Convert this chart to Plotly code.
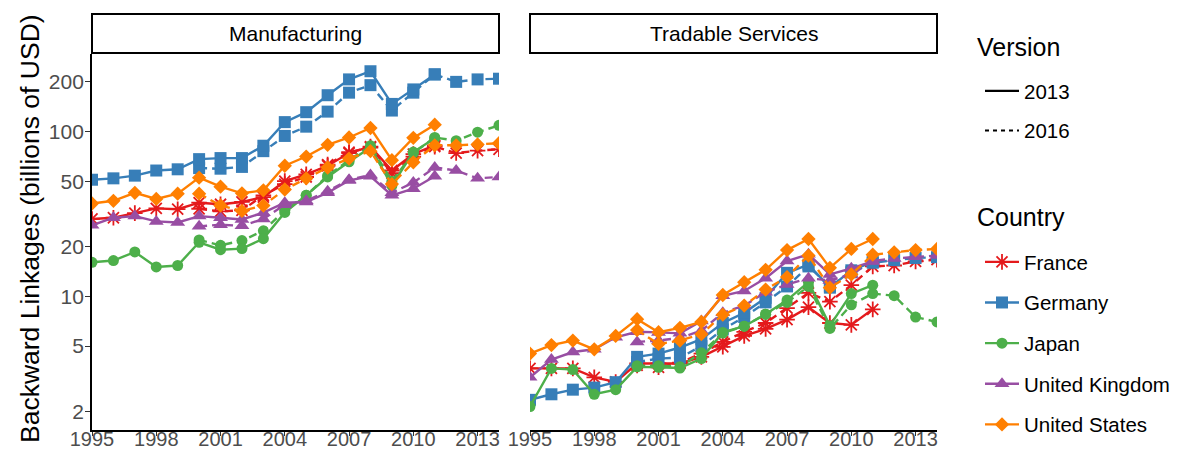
import plotly.graph_objects as go

# ---------------- data ----------------
countries = ["France", "Germany", "Japan", "United Kingdom", "United States"]
colors = ["#E41A1C", "#377EB8", "#4DAF4A", "#984EA3", "#FF7F00"]
symbols = ["asterisk-open", "square", "circle", "triangle-up", "diamond"]
msizes = [13, 12, 11, 13, 11]

years_2013 = list(range(1995, 2012))   # WIOD 2013 release
years_2016 = list(range(2000, 2015))   # WIOD 2016 release

# Manufacturing, 2013 version (1995-2011)
mfg_2013 = {
    "France":         [29.5, 30, 32, 34.2, 33.8, 37, 36.2, 37.4, 40, 50, 55, 62, 74, 81, 58, 73, 82.5],
    "Germany":        [51, 52, 54, 58, 59, 68, 69, 69, 82, 114, 131, 166, 207, 232, 147, 180, 222],
    "Japan":          [16.1, 16.5, 18.6, 15.1, 15.4, 21.3, 19.2, 19.5, 22.4, 32.3, 41, 53, 65.5, 80, 47, 75, 91],
    "United Kingdom": [27, 30, 30.7, 28.5, 28.1, 30.7, 30, 29.3, 32.2, 37, 37.4, 42.5, 50.5, 53.5, 41, 45, 53.5],
    "United States":  [36.6, 38, 42.5, 39, 42, 52.5, 46.3, 42.2, 44, 62, 70.5, 83, 92, 105, 67, 91.5, 110],
}
# Manufacturing, 2016 version (2000-2014)
mfg_2016 = {
    "France":         [34, 32.8, 33.3, 41, 48, 53, 63, 75, 80, 56, 70.5, 81, 74, 76.5, 78],
    "Germany":        [60, 59.5, 61, 76, 94, 107, 132, 172, 191, 134, 172, 222, 200, 207, 209],
    "Japan":          [22, 20.4, 21.8, 25, 33.3, 41, 54, 67, 82, 50, 74, 92, 88, 99, 109],
    "United Kingdom": [26.6, 27.2, 26.8, 29.5, 36, 38, 43.5, 51, 54.5, 42.5, 49, 60.5, 58, 52, 53],
    "United States":  [42, 35.6, 33, 35.6, 44.5, 52, 60.5, 68.5, 76, 48, 65, 82.5, 82.5, 83.5, 85],
}
# Tradable services, 2013 version (1995-2011)
srv_2013 = {
    "France":         [3.66, 3.66, 3.66, 3.23, 3.03, 3.92, 3.92, 3.92, 4.3, 4.95, 5.76, 6.35, 7.23, 8.6, 6.9, 6.72, 8.35],
    "Germany":        [2.36, 2.55, 2.72, 2.8, 3.02, 4.3, 4.5, 4.9, 5.5, 6.9, 7.95, 9.8, 13.9, 15.6, 11.3, 14.4, 16.2],
    "Japan":          [2.15, 3.66, 3.6, 2.55, 2.72, 3.74, 3.72, 3.68, 4.2, 6.05, 6.6, 7.8, 9.5, 12.2, 6.65, 10.4, 11.7],
    "United Kingdom": [3.23, 4.14, 4.6, 4.78, 5.65, 6.1, 6.05, 5.97, 7.1, 10.1, 10.8, 12.9, 16.4, 18.0, 13.6, 14.8, 16.3],
    "United States":  [4.5, 5.07, 5.4, 4.78, 5.76, 7.28, 6.07, 6.45, 7.0, 10.2, 12.2, 14.5, 19.1, 22.3, 14.9, 19.4, 22.3],
}
# Tradable services, 2016 version (2000-2014)
srv_2016 = {
    "France":         [3.82, 3.72, 3.97, 4.5, 5.3, 6.1, 6.9, 8.5, 10.5, 9.3, 11.7, 15.2, 15.4, 16.3, 16.7],
    "Germany":        [4.0, 4.2, 4.25, 5.0, 6.3, 7.5, 9.2, 11.5, 15.2, 11.5, 14.0, 16.0, 16.6, 17.1, 17.3],
    "Japan":          [3.8, 3.8, 3.75, 4.55, 6.0, 6.6, 7.8, 9.2, 11.5, 6.4, 8.9, 10.4, 10.1, 7.5, 7.0],
    "United Kingdom": [5.3, 5.4, 5.6, 6.2, 7.95, 8.8, 10.6, 11.8, 12.9, 12.5, 13.6, 16.4, 17.0, 17.4, 17.7],
    "United States":  [6.25, 5.15, 5.4, 5.9, 7.75, 8.8, 11.0, 13.1, 17.7, 11.3, 13.6, 17.9, 18.5, 19.1, 19.4],
}

panels = ["Manufacturing", "Tradable Services"]
versions = ["2013", "2016"]
y_ticks = [2, 5, 10, 20, 50, 100, 200]
x_ticks = [1995, 1998, 2001, 2004, 2007, 2010, 2013]

# ---------------- figure ----------------
FONT = "Liberation Sans, Arial, Helvetica, sans-serif"
DASH16 = "8px,5px"

# the page body has an 8px margin: figure drawn at (8, 8) in the window
OFF = 8
W, H = 1180 - OFF, 452 - OFF
L, R, T, B = 92 - OFF, 243, 54 - OFF, 22
pw = W - L - R
ph = H - T - B
panel_w = 407
gap = 31


def sx(px):  # window pixel x -> paper x
    return (px - OFF - L) / pw


def sy(py):  # window pixel y -> paper y
    return (H - B - (py - OFF)) / ph


fig = go.Figure()

panel_data = [(mfg_2013, mfg_2016, "x", "y"), (srv_2013, srv_2016, "x2", "y2")]
for p, (d13, d16, xa, ya) in enumerate(panel_data):
    for i, c in enumerate(countries):
        for ver, yrs, d, dash in [("2016", years_2016, d16, DASH16), ("2013", years_2013, d13, "solid")]:
            show = (p == 0 and ver == "2013")
            fig.add_trace(go.Scatter(
                x=yrs, y=d[c], xaxis=xa, yaxis=ya,
                mode="lines+markers", name=c,
                line=dict(color=colors[i], width=2.4, dash=dash),
                marker=dict(symbol=symbols[i], size=msizes[i], color=colors[i],
                            line=dict(color=colors[i], width=1.8 if i == 0 else 0)),
                showlegend=show, legend="legend2", legendgroup=c,
                hoverinfo="skip",
            ))

# Version legend entries (keys only)
for ver, dash in zip(versions, ["solid", "4px,4px"]):
    fig.add_trace(go.Scatter(
        x=[None], y=[None], mode="lines", name=ver,
        line=dict(color="black", width=2.2, dash=dash),
        legend="legend", legendgroup="v" + ver, showlegend=True,
    ))

axis_common = dict(
    showgrid=False, zeroline=False, ticks="outside", ticklen=5,
    tickcolor="#333333", tickwidth=1.3, automargin=False,
    tickfont=dict(family=FONT, size=21, color="#4D4D4D"),
)
xcommon = dict(axis_common, range=[1995, 2014], tickvals=x_ticks,
               showline=True, linecolor="black", linewidth=1.8,
               ticklen=4, ticklabelstandoff=-14,
               tickfont=dict(family=FONT, size=20, color="#4D4D4D"))

fig.update_layout(
    width=W, height=H,
    margin=dict(l=L, r=R, t=T, b=B, autoexpand=False),
    paper_bgcolor="white", plot_bgcolor="white",
    font=dict(family=FONT, color="black"),
    xaxis=dict(xcommon, domain=[0, panel_w / pw], anchor="y"),
    xaxis2=dict(xcommon, domain=[(panel_w + gap) / pw, 1], anchor="y2"),
    yaxis=dict(axis_common, type="log", range=[0.19, 2.47], tickvals=y_ticks,
               ticktext=[str(v) for v in y_ticks], ticklabelstandoff=-3,
               showline=True, linecolor="black", linewidth=1.8, anchor="x"),
    yaxis2=dict(type="log", range=[0.19, 2.47], matches="y", anchor="x2",
                showgrid=False, zeroline=False, showline=False,
                showticklabels=False, ticks="", automargin=False),
    legend=dict(
        x=sx(980), xanchor="left", y=sy(71), yanchor="top",
        font=dict(family=FONT, size=20.5, color="black"),
        tracegroupgap=10, itemwidth=34, bgcolor="rgba(0,0,0,0)",
    ),
    legend2=dict(
        x=sx(980), xanchor="left", y=sy(242), yanchor="top",
        font=dict(family=FONT, size=20.5, color="black"),
        tracegroupgap=11, itemwidth=34, bgcolor="rgba(0,0,0,0)",
    ),
)

# y-axis title
fig.add_annotation(text="Backward Linkages (billions of USD)", xref="paper", yref="paper",
                   x=sx(30), y=sy(229), textangle=-90, showarrow=False,
                   xanchor="center", yanchor="middle",
                   font=dict(family=FONT, size=26.5, color="black"))

# legend titles
for title, ypx in [("Version", 47), ("Country", 217)]:
    fig.add_annotation(text=title, xref="paper", yref="paper",
                       x=sx(975), y=sy(ypx), showarrow=False,
                       xanchor="left", yanchor="middle",
                       font=dict(family=FONT, size=25, color="black"))

# facet strips
for k, name in enumerate(panels):
    x0 = 0 if k == 0 else (panel_w + gap) / pw
    x1 = panel_w / pw if k == 0 else 1
    fig.add_shape(type="rect", xref="paper", yref="paper",
                  x0=x0, x1=x1, y0=1 + 1 / ph, y1=1 + 40 / ph,
                  line=dict(color="black", width=2), fillcolor="white")
    fig.add_annotation(text=name, xref="paper", yref="paper",
                       x=(x0 + x1) / 2, y=1 + 20.5 / ph, showarrow=False,
                       font=dict(family=FONT, size=21, color="black"),
                       xanchor="center", yanchor="middle")

fig.write_html("out.html")
